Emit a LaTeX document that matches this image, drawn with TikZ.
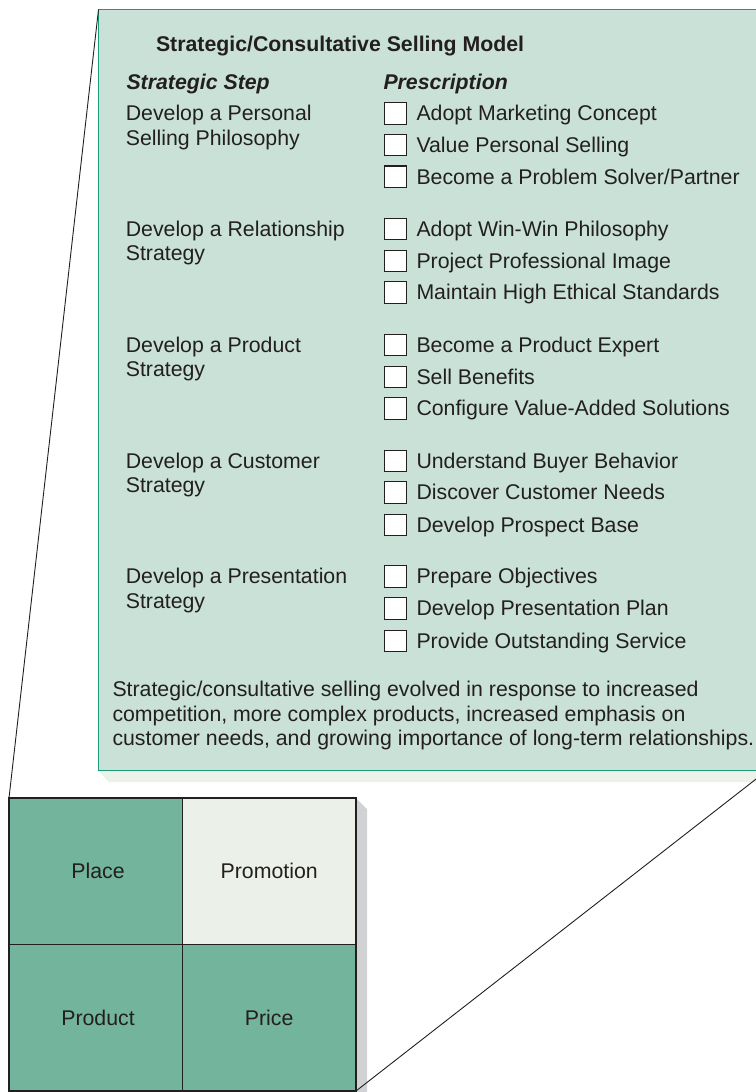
\documentclass[tikz,border=0pt]{standalone}
\usepackage{fontspec}
\setmainfont{Liberation Sans}
\definecolor{ink}{HTML}{231F20}
\definecolor{panelfill}{HTML}{C9E1D7}
\definecolor{panelline}{HTML}{1A9A78}
\definecolor{panelshadow}{HTML}{EBF2E8}
\definecolor{cellgreen}{HTML}{73B49C}
\definecolor{celllight}{HTML}{EBF1E8}
\definecolor{boxshadow}{HTML}{D1D2D4}
\newcommand{\twolines}[2]{\vtop{\baselineskip=24.4bp\hbox{#1}\hbox{#2}}}
\newcommand{\threelines}[3]{\vtop{\baselineskip=24.6bp\hbox{#1}\hbox{#2}\hbox{#3}}}
\newcommand{\myfont}{\fontsize{21.3bp}{24.4bp}\selectfont}
\tikzset{
  txt/.style={inner sep=0pt,outer sep=0pt,text=ink,font=\myfont,anchor=base west},
  chk/.style={draw=ink,fill=white,line width=1.1bp,minimum width=22bp,minimum height=21.5bp,inner sep=0pt,outer sep=0pt},
  cell/.style={draw=ink,line width=1.2bp,minimum width=173.5bp,minimum height=146.5bp,anchor=north west,inner sep=0pt,outer sep=0pt,text=ink,font=\myfont},
  panelbox/.style={draw=panelline,fill=panelfill,line width=1.6bp,anchor=north west,minimum width=668.5bp,minimum height=761bp,inner sep=0pt,outer sep=0pt},
  zoomline/.style={draw=ink,line width=0.9bp}
}
\newcommand{\prow}[3]{%
  \node[chk] (#1b) at (395.3,#2) {};
  \node[txt] (#1t) at (416.5,#2+7.4) {#3};
}
\begin{document}
\begin{tikzpicture}[x=1bp,y=-1bp]
\useasboundingbox (0,0) rectangle (756,1092);
\clip (0,0) rectangle (756,1092);
% panel shadow
\fill[panelshadow] (98.5,770.5) -- (108.5,782) -- (780,782) -- (780,770.5) -- cycle;
% panel
\node[panelbox] (panel) at (98.5,9.5) {};
% title and headers
\node[txt,font=\myfont\bfseries] (title) at (156,51.7) {Strategic/Consultative Selling Model};
\node[txt,font=\myfont\bfseries\itshape] (hstep) at (126.5,89.3) {Strategic Step};
\node[txt,font=\myfont\bfseries\itshape] (hpres) at (383.5,89.3) {Prescription};
% steps
\node[txt] (s1) at (125.8,120.7) {\twolines{Develop a Personal}{Selling Philosophy}};
\node[txt] (s2) at (125.8,236.5) {\twolines{Develop a Relationship}{Strategy}};
\node[txt] (s3) at (125.8,352.3) {\twolines{Develop a Product}{Strategy}};
\node[txt] (s4) at (125.8,468.1) {\twolines{Develop a Customer}{Strategy}};
\node[txt] (s5) at (125.8,583.9) {\twolines{Develop a Presentation}{Strategy}};
% prescriptions
\prow{a1}{113.3}{Adopt Marketing Concept}
\prow{a2}{145.0}{Value Personal Selling}
\prow{a3}{176.7}{Become a Problem Solver/Partner}
\prow{b1}{229.1}{Adopt Win-Win Philosophy}
\prow{b2}{260.8}{Project Professional Image}
\prow{b3}{292.5}{Maintain High Ethical Standards}
\prow{c1}{345.0}{Become a Product Expert}
\prow{c2}{376.8}{Sell Benefits}
\prow{c3}{408.5}{Configure Value-Added Solutions}
\prow{d1}{460.8}{Understand Buyer Behavior}
\prow{d2}{492.5}{Discover Customer Needs}
\prow{d3}{524.8}{Develop Prospect Base}
\prow{e1}{576.5}{Prepare Objectives}
\prow{e2}{608.3}{Develop Presentation Plan}
\prow{e3}{640.8}{Provide Outstanding Service}
% summary
\node[txt] (summary) at (112.5,696.7) {\threelines{Strategic/consultative selling evolved in response to increased}{competition, more complex products, increased emphasis on}{customer needs, and growing importance of long-term relationships.}};
% marketing mix box
\fill[boxshadow] (356,798) -- (367,809) -- (367,1102) -- (356,1102) -- cycle;
\node[cell,fill=cellgreen] (place) at (9,798) {};
\node[cell,fill=celllight] (promotion) at (182.5,798) {};
\node[cell,fill=cellgreen] (product) at (9,944.5) {};
\node[cell,fill=cellgreen] (price) at (182.5,944.5) {};
\node[txt,anchor=center] (placet) at (98,871.3) {Place};
\node[txt,anchor=center] (promotiont) at (269.2,871.3) {Promotion};
\node[txt,anchor=center] (productt) at (98,1017.7) {Product};
\node[txt,anchor=center] (pricet) at (269.2,1017.7) {Price};
% zoom lines
\draw[zoomline] (panel.north west) -- (place.north west);
\draw[zoomline] (price.south east) -- (panel.south east);
\end{tikzpicture}
\end{document}
